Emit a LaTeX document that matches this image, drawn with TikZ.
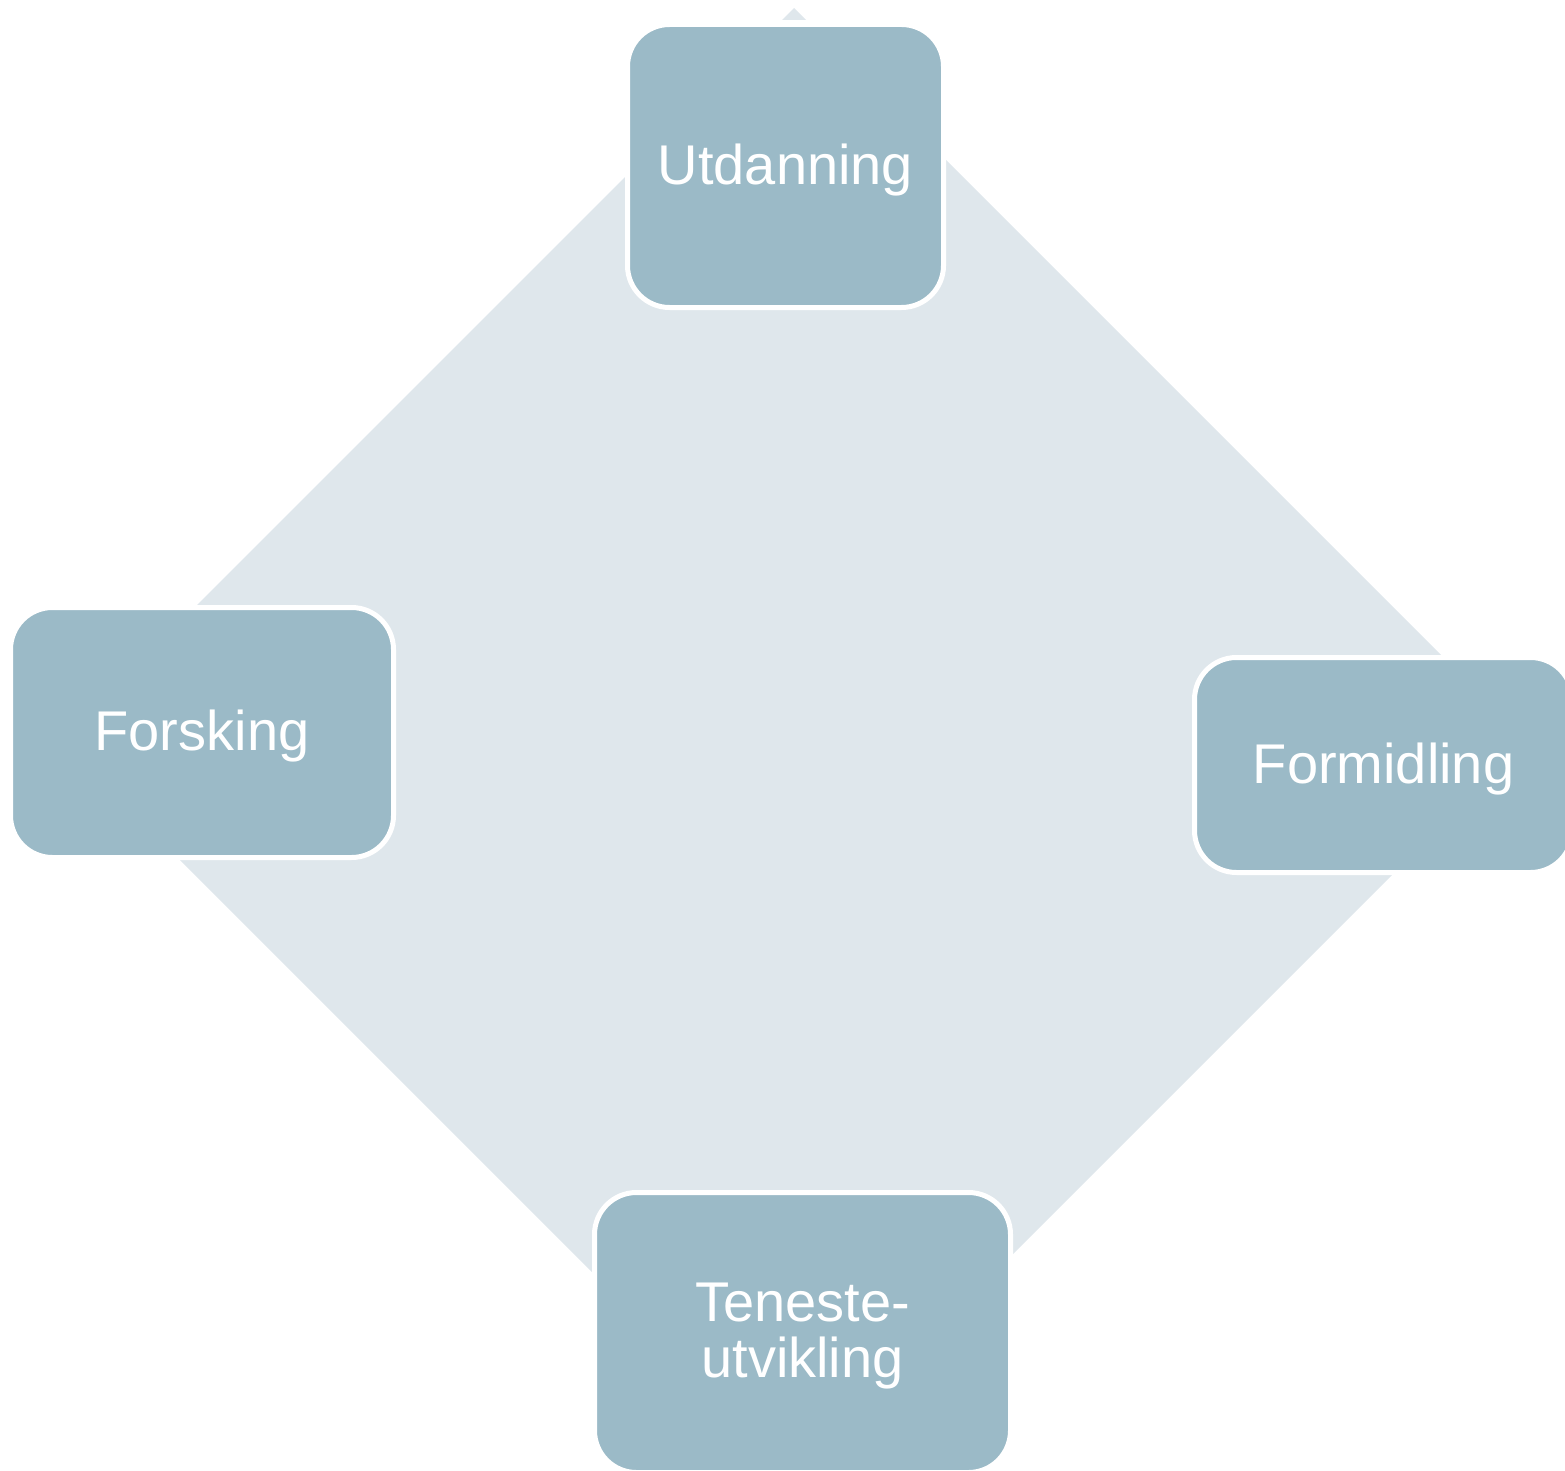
\documentclass[tikz,border=0pt]{standalone}
\usepackage{fontspec}
\setmainfont{Liberation Sans}
\definecolor{boxfill}{RGB}{155,186,199}
\definecolor{diamondfill}{RGB}{223,231,236}
\begin{document}
\begin{tikzpicture}[x=1pt,y=-1pt,
  stage/.style={rectangle, rounded corners=42pt, fill=boxfill, draw=white,
    line width=5pt, text=white, inner sep=0pt, align=center, text depth=4pt,
    font=\fontsize{56}{56}\selectfont}]
\useasboundingbox (0,0) rectangle (1565,1471);
\clip (0,0) rectangle (1565,1471);
% background diamond (tip above the top box, then the body)
\fill[diamondfill] (782,20) -- (794,8) -- (806,20) -- cycle;
\fill[diamondfill] (772,30) -- (816,30) -- (1526.5,740.5) -- (793.5,1473.5) -- (61,741) -- cycle;
% stages
\node[stage, minimum width=316pt, minimum height=283pt] (utd) at (785.5,166) {Utdanning};
\node[stage, minimum width=378pt, minimum height=215pt] (form) at (1383.5,765) {Formidling};
\node[stage, minimum width=416pt, minimum height=280pt] (ten) at (802.5,1332.5) {Teneste-\\utvikling};
\node[stage, minimum width=383pt, minimum height=250pt] (fors) at (202,732.5) {Forsking};
\end{tikzpicture}
\end{document}
